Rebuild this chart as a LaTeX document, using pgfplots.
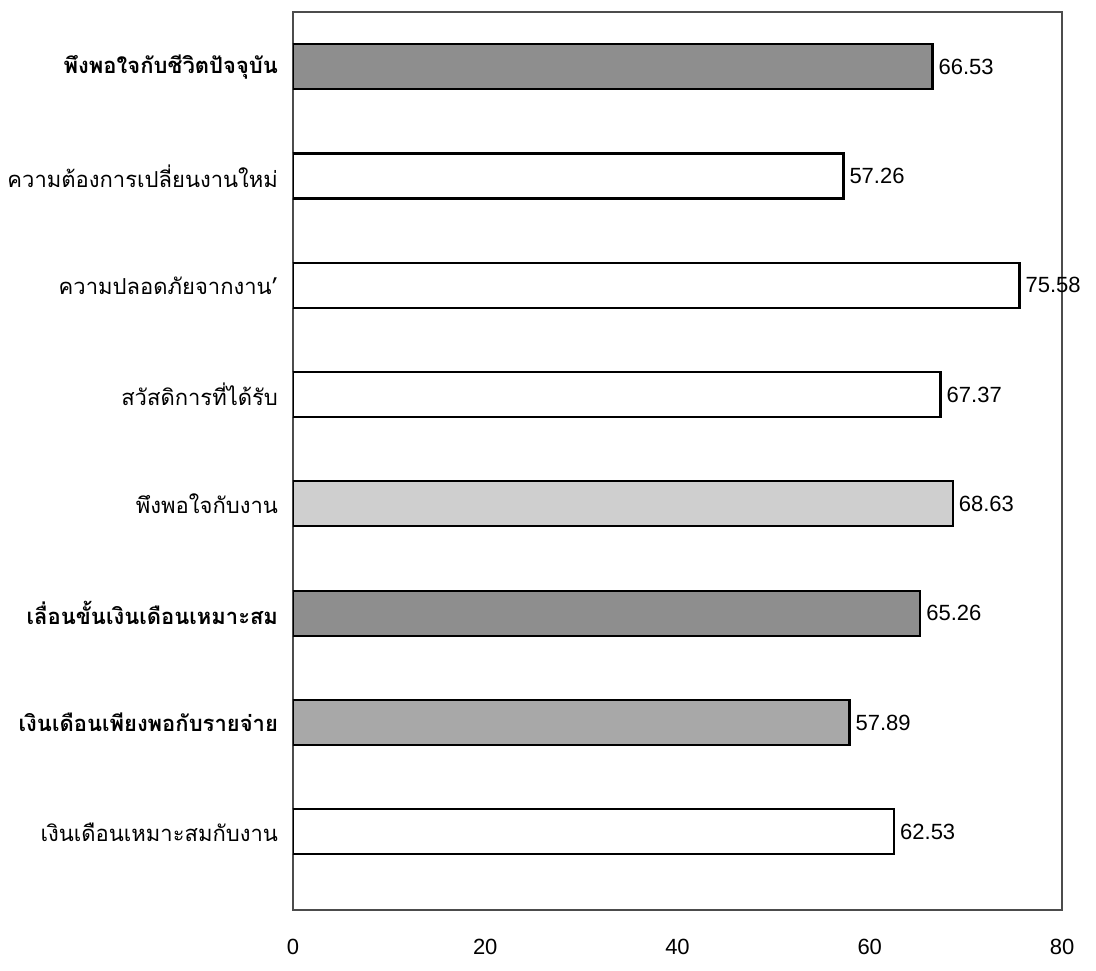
\documentclass[border=0pt]{standalone}
\usepackage{fontspec}
\setmainfont{Liberation Sans}
\newfontfamily\thaifont[Script=Thai]{Loma}
\usepackage{pgfplots}
\pgfplotsset{compat=1.18}
\usetikzlibrary{calc}

\definecolor{darkbar}{HTML}{8E8E8E}
\definecolor{midbar}{HTML}{A8A8A8}
\definecolor{lightbar}{HTML}{CFCFCF}

\begin{document}
\begin{tikzpicture}
\begin{axis}[
  name=ax,
  xbar,
  scale only axis,
  width=384.5pt, height=449pt,
  xmin=0, xmax=80,
  ymin=-0.715, ymax=7.5,
  xtick={0,20,40,60,80},
  ytick={0,...,7},
  yticklabels={
    เงินเดือนเหมาะสมกับงาน,
    \textbf{เงินเดือนเพียงพอกับรายจ่าย},
    \textbf{เลื่อนขั้นเงินเดือนเหมาะสม},
    พึงพอใจกับงาน,
    สวัสดิการที่ได้รับ,
    ความปลอดภัยจากงาน’,
    ความต้องการเปลี่ยนงานใหม่,
    \textbf{พึงพอใจกับชีวิตปัจจุบัน}},
  major tick length=0pt,
  axis line style={draw=black!70, line width=0.6pt},
  /pgf/number format/assume math mode=true,
  xticklabel style={font=\fontsize{11}{13}\selectfont, yshift=-11pt},
  yticklabel style={font=\thaifont\fontsize{11}{13}\selectfont, xshift=-4pt},
  bar width=22.5pt,
  bar shift=0pt,
  nodes near coords,
  nodes near coords style={font=\fontsize{11}{13}\selectfont, anchor=west, inner sep=2.5pt,
    /pgf/number format/.cd, fixed, precision=2, fixed zerofill},
  every axis plot/.append style={draw=black, line width=1.1pt},
]
% white bars
\addplot[fill=white] coordinates {(62.53,0) (67.37,4) (75.58,5) (57.26,6)};
% dark bars
\addplot[fill=darkbar] coordinates {(65.26,2) (66.53,7)};
% medium bar
\addplot[fill=midbar] coordinates {(57.89,1)};
% light bar
\addplot[fill=lightbar] coordinates {(68.63,3)};
\end{axis}
\pgfresetboundingbox
\path ($(ax.south west)+(-146.5pt,-30.5pt)$) rectangle ($(ax.north east)+(17pt,6pt)$);
\end{tikzpicture}
\end{document}
